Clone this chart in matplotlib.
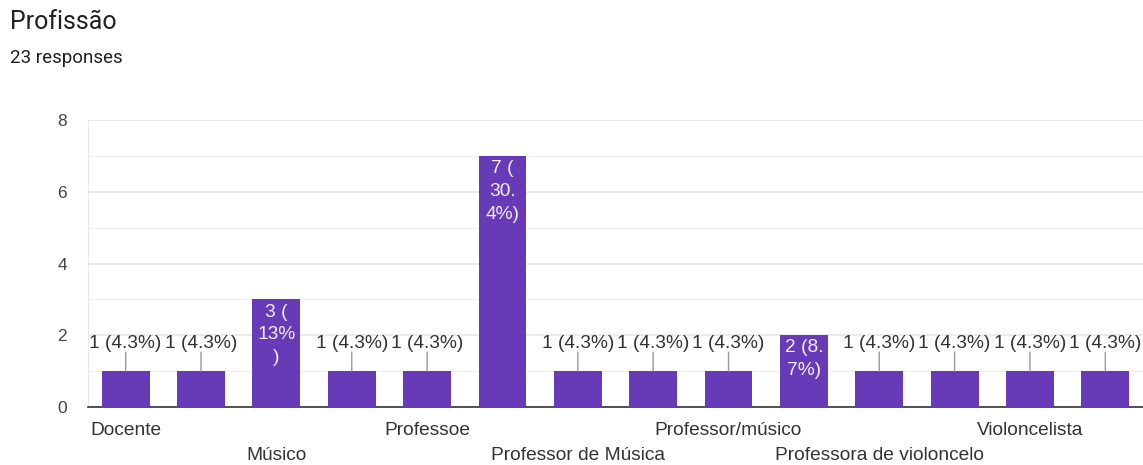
import matplotlib
matplotlib.use("Agg")
import matplotlib.pyplot as plt
from matplotlib.ticker import MultipleLocator
from matplotlib.transforms import blended_transform_factory

plt.rcParams['font.family'] = ['Liberation Sans', 'DejaVu Sans']

title = "Profissão"
subtitle = "23 responses"
total = 23

# Only every other category label is visible in the reference; hidden ones left blank
categories = ["Docente", "", "Músico", "", "Professoe", "", "Professor de Música", "",
              "Professor/músico", "", "Professora de violoncelo", "", "Violoncelista", ""]
values = [1, 1, 3, 1, 1, 7, 1, 1, 1, 2, 1, 1, 1, 1]
# wrapped labels for bars tall enough to hold their label inside
inside_labels = {2: "3 (\n13%\n)", 5: "7 (\n30.\n4%)", 9: "2 (8.\n7%)"}
yticks = [0, 2, 4, 6, 8]

BAR = "#673ab7"
TXT = "#333333"
FS = 13.8

fig = plt.figure(figsize=(11.43, 4.65), dpi=100)
ax = fig.add_axes([88/1143, 58/465, 1055/1143, (407-120)/465])

x = list(range(len(values)))
ax.bar(x, values, width=0.635, color=BAR, zorder=3)

ax.set_xlim(-0.5, len(values) - 0.5)
ax.set_ylim(0, 8)
ax.set_yticks(yticks)
ax.yaxis.set_minor_locator(MultipleLocator(1))
ax.grid(axis='y', which='major', color='#e8e8e8', linewidth=1.2, zorder=0)
ax.grid(axis='y', which='minor', color='#f0f0f0', linewidth=1.0, zorder=0)
ax.set_xticks([])
ax.tick_params(axis='y', which='both', length=0, labelsize=12.5, labelcolor='#444444', pad=15)
for s in ['top', 'right']:
    ax.spines[s].set_visible(False)
ax.spines['left'].set_color('#e8e8e8')
ax.spines['bottom'].set_color('#333333')
ax.spines['bottom'].set_linewidth(1.2)
ax.set_axisbelow(True)

for i, v in enumerate(values):
    pct = f"{round(v / total * 100, 1):g}"
    if i in inside_labels:
        ax.annotate(inside_labels[i], xy=(i, v), xytext=(0, -3), textcoords='offset points',
                    ha='center', va='top', color='#f3eefa', fontsize=FS, linespacing=1.45,
                    zorder=5)
    else:
        label = f"{v} ({pct}%)"
        ax.annotate(label, xy=(i, v), xytext=(0, 20), textcoords='offset points',
                    ha='center', va='center', color=TXT, fontsize=FS, zorder=5)
        ax.annotate("", xy=(i, v), xytext=(i, v + 0.53),
                    arrowprops=dict(arrowstyle='-', color='#999999', lw=1,
                                    shrinkA=0, shrinkB=0), zorder=4)

trans = blended_transform_factory(ax.transData, ax.transAxes)
row = 0
for i, c in enumerate(categories):
    if c:
        dy = -23 if row % 2 == 0 else -48
        ax.annotate(c, xy=(i, 0), xycoords=trans, xytext=(0, dy * 0.72),
                    textcoords='offset points', ha='center', va='center',
                    color=TXT, fontsize=FS, annotation_clip=False)
        row += 1

fig.text(10/1143, 1 - 22/465, title, fontsize=18, color='#202124', va='center', ha='left',
         family=['Roboto', 'DejaVu Sans'])
fig.text(10/1143, 1 - 58/465, subtitle, fontsize=13.5, color='#202124', va='center', ha='left',
         family=['Roboto', 'DejaVu Sans'])

fig.savefig("out.png", dpi=100)
